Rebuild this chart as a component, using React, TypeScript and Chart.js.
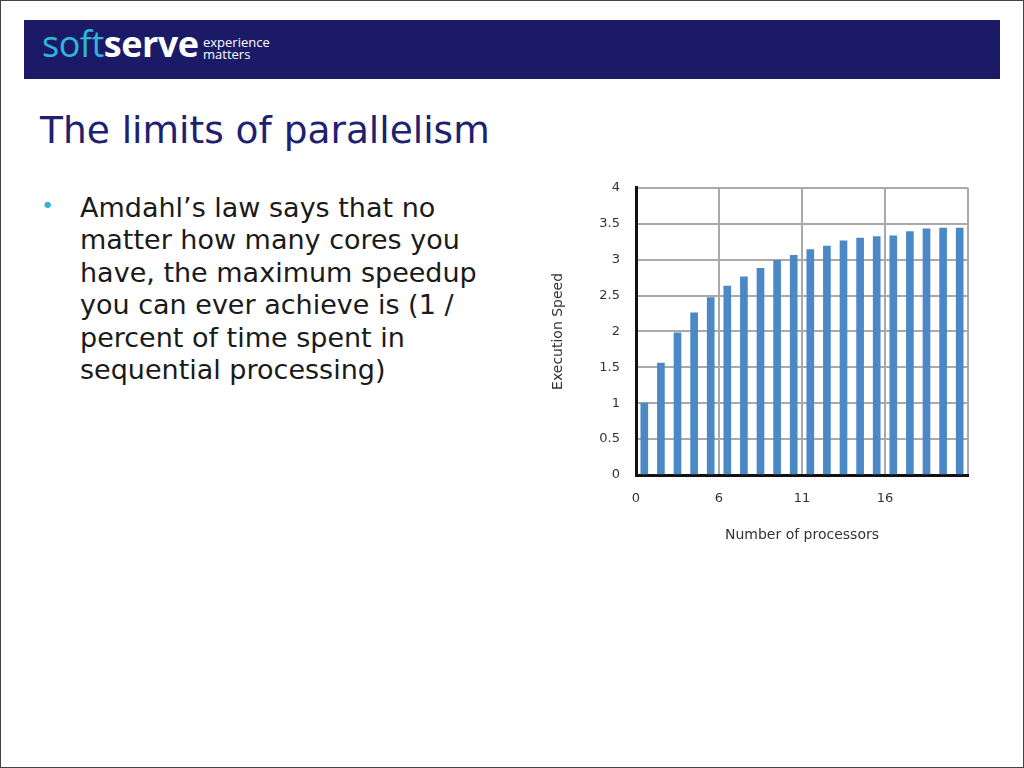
import React, { useEffect, useRef } from "react";
import { Chart, registerables } from "chart.js";

Chart.register(...registerables);

const processors = ["1","2","3","4","5","6","7","8","9","10","11","12","13","14","15","16","17","18","19","20"];
const speedup = [1.0, 1.56, 1.98, 2.26, 2.47, 2.63, 2.76, 2.88, 2.99, 3.06, 3.14, 3.19, 3.26, 3.3, 3.32, 3.33, 3.39, 3.43, 3.44, 3.44];
const xTickLabels = ["0", "6", "11", "16", ""];
const yTickLabels = ["0", "0.5", "1", "1.5", "2", "2.5", "3", "3.5", "4"];
const bulletLines = [
  "Amdahl\u2019s law says that no",
  "matter how many cores you",
  "have, the maximum speedup",
  "you can ever achieve is (1 /",
  "percent of time spent in",
  "sequential processing)",
];

const HAND = "'DejaVu Sans', sans-serif";
const SLIDE = "'DejaVu Sans', Verdana, sans-serif";

export default function App() {
  const ref = useRef<HTMLCanvasElement | null>(null);

  useEffect(() => {
    document.body.style.margin = "0";
    const ctx = ref.current!.getContext("2d")!;
    const chart = new Chart(ctx, {
      type: "bar",
      data: {
        labels: processors,
        datasets: [
          {
            data: speedup,
            backgroundColor: "#4a88c6",
            borderWidth: 0,
            barThickness: 7,
            xAxisID: "x",
            yAxisID: "y",
          },
        ],
      },
      options: {
        responsive: false,
        animation: false,
        events: [],
        layout: { padding: { top: 1, right: 9, left: 0, bottom: 0 } },
        plugins: { legend: { display: false }, tooltip: { enabled: false } },
        scales: {
          x: {
            type: "category",
            display: false,
            offset: true,
          },
          x2: {
            type: "linear",
            position: "bottom",
            min: 0,
            max: 20,
            offset: false,
            afterFit: (s: any) => { s.height = 81; },
            border: { display: true, color: "#111", width: 3 },
            grid: { color: "#a9a9a9", lineWidth: 2, drawTicks: false, offset: false },
            ticks: {
              stepSize: 5,
              padding: 16,
              color: "#333",
              font: { family: HAND, size: 13 },
              callback: (_v: any, i: number) => xTickLabels[i] ?? "",
            },
            title: {
              display: true,
              text: "Number of processors",
              color: "#333",
              font: { family: HAND, size: 14 },
              padding: { top: 0, bottom: 12 },
            },
          },
          y: {
            min: 0,
            max: 4,
            afterFit: (s: any) => { s.width = 95; },
            border: { display: true, color: "#111", width: 3 },
            grid: { color: "#a9a9a9", lineWidth: 2, drawTicks: false },
            ticks: {
              stepSize: 0.5,
              padding: 16,
              color: "#333",
              font: { family: HAND, size: 13 },
              callback: (_v: any, i: number) => yTickLabels[i] ?? "",
            },
            title: {
              display: true,
              text: "Execution Speed",
              color: "#333",
              font: { family: HAND, size: 14 },
              padding: { top: 9, bottom: 0 },
            },
          },
        },
      },
    });
    return () => chart.destroy();
  }, []);

  return (
    <div
      style={{
        position: "fixed",
        left: 0,
        top: 0,
        width: 1024,
        height: 768,
        background: "#fff",
        boxSizing: "border-box",
        border: "1px solid #444",
        overflow: "hidden",
      }}
    >
      <div
        style={{
          position: "absolute",
          left: 23,
          top: 19,
          width: 976,
          height: 59,
          background: "#1a1a66",
        }}
      />
      <div
        style={{
          position: "absolute",
          left: 41,
          top: 20,
          fontFamily: "'Open Sans', sans-serif",
          fontSize: 36,
          lineHeight: "46px",
          letterSpacing: -0.5,
        }}
      >
        <span style={{ color: "#2fb6da" }}>soft</span>
        <span style={{ color: "#fff", fontWeight: 700 }}>serve</span>
      </div>
      <div
        style={{
          position: "absolute",
          left: 202,
          top: 35,
          fontFamily: "'Open Sans', sans-serif",
          fontSize: 13,
          lineHeight: "12px",
          color: "#fff",
        }}
      >
        experience
        <br />
        matters
      </div>
      <div
        style={{
          position: "absolute",
          left: 39,
          top: 104,
          fontFamily: SLIDE,
          fontSize: 37.5,
          lineHeight: "50px",
          color: "#1d2170",
          whiteSpace: "nowrap",
        }}
      >
        The limits of parallelism
      </div>
      <div
        style={{
          position: "absolute",
          left: 40,
          top: 192,
          color: "#2fb6da",
          fontFamily: SLIDE,
          fontSize: 22,
        }}
      >
        •
      </div>
      <div
        style={{
          position: "absolute",
          left: 79,
          top: 191,
          fontFamily: SLIDE,
          fontSize: 27,
          lineHeight: "32.4px",
          color: "#1a1a1a",
          whiteSpace: "nowrap",
        }}
      >
        {bulletLines.map((l, i) => (
          <div key={i}>{l}</div>
        ))}
      </div>
      <canvas
        ref={ref}
        width={443}
        height={392}
        style={{ position: "absolute", left: 540, top: 163, width: 443, height: 392 }}
      />
    </div>
  );
}
